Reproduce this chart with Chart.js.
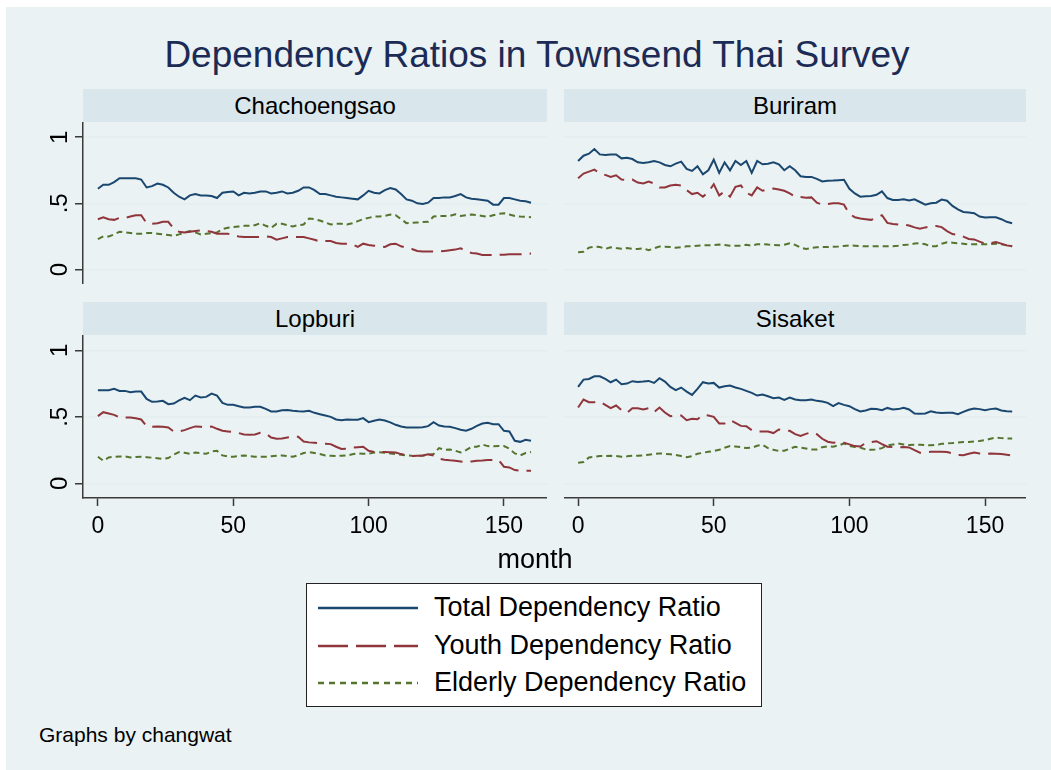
<!DOCTYPE html>
<html>
<head>
<meta charset="utf-8">
<script src="https://cdn.jsdelivr.net/npm/chart.js@4.4.1/dist/chart.umd.min.js"></script>
<style>
  body { margin: 0; width: 1051px; height: 770px; position: relative; overflow: hidden; background: #fff;
         font-family: "Liberation Sans", Arial, sans-serif; }
  #bg { position: absolute; left: 6px; top: 7px; right: 0; bottom: 0; background: #eaf2f3; }
  .abs { position: absolute; }
  .strip { position: absolute; height: 33px; background: #d9e6eb; color: #000; font-size: 24px;
           line-height: 33px; text-align: center; }
  #title { left: 0; width: 1074px; top: 36px; text-align: center; font-size: 37px; line-height: 37px; color: #1c2b55; }
  #xtitle { left: 0; width: 1070px; top: 546px; text-align: center; font-size: 27px; line-height: 27px; color: #000; }
  #legend { left: 306px; top: 583px; width: 456px; height: 124px; box-sizing: border-box;
            border: 1.5px solid #222; background: #fff; }
  .legtext { position: absolute; left: 127px; font-size: 27px; line-height: 27px; color: #000; white-space: nowrap; }
  #note { left: 39px; top: 724px; font-size: 21px; line-height: 21px; color: #000; }
</style>
</head>
<body>
<div id="bg"></div>
<div id="title" class="abs">Dependency Ratios in Townsend Thai Survey</div>

<div class="strip" style="left:83px;top:89px;width:464px;">Chachoengsao</div>
<div class="strip" style="left:564px;top:89px;width:462px;">Buriram</div>
<div class="strip" style="left:83px;top:302px;width:464px;">Lopburi</div>
<div class="strip" style="left:564px;top:302px;width:462px;">Sisaket</div>

<canvas id="c1" class="abs" width="517" height="162" style="left:30px;top:122px;"></canvas>
<canvas id="c2" class="abs" width="462" height="162" style="left:564px;top:122px;"></canvas>
<canvas id="c3" class="abs" width="517" height="210" style="left:30px;top:335px;"></canvas>
<canvas id="c4" class="abs" width="462" height="210" style="left:564px;top:335px;"></canvas>

<div id="xtitle" class="abs">month</div>

<div id="legend" class="abs">
  <svg class="abs" style="left:0;top:0" width="453" height="121">
    <line x1="11" y1="24" x2="111" y2="24" stroke="#1a476f" stroke-width="2.5"/>
    <line x1="11" y1="62" x2="111" y2="62" stroke="#90353b" stroke-width="2.5" stroke-dasharray="30 8"/>
    <line x1="11" y1="99" x2="111" y2="99" stroke="#55752f" stroke-width="2.5" stroke-dasharray="6 5"/>
  </svg>
  <div class="legtext" style="top:10px;">Total Dependency Ratio</div>
  <div class="legtext" style="top:48px;">Youth Dependency Ratio</div>
  <div class="legtext" style="top:85px;">Elderly Dependency Ratio</div>
</div>

<div id="note" class="abs">Graphs by changwat</div>

<script>
const months = [0, 2, 4, 6, 8, 10, 12, 14, 16, 18, 20, 22, 24, 26, 28, 30, 32, 34, 36, 38,
  40, 42, 44, 46, 48, 50, 52, 54, 56, 58, 60, 62, 64, 66, 68, 70, 72, 74, 76, 78,
  80, 82, 84, 86, 88, 90, 92, 94, 96, 98, 100, 102, 104, 106, 108, 110, 112, 114, 116, 118,
  120, 122, 124, 126, 128, 130, 132, 134, 136, 138, 140, 142, 144, 146, 148, 150, 152, 154, 156, 158, 160];

const xTicks = [0, 50, 100, 150];
const yTicks = [0, 0.5, 1];
const yTickLabels = ['0', '.5', '1'];
const seriesNames = ['Total Dependency Ratio', 'Youth Dependency Ratio', 'Elderly Dependency Ratio'];

// Chachoengsao
const chachTotal = [0.61, 0.64, 0.64, 0.66, 0.69, 0.69, 0.69, 0.69, 0.68, 0.62,
  0.63, 0.65, 0.64, 0.62, 0.58, 0.55, 0.53, 0.56, 0.57, 0.56,
  0.56, 0.555, 0.54, 0.58, 0.585, 0.59, 0.56, 0.58, 0.575, 0.58,
  0.59, 0.59, 0.575, 0.58, 0.59, 0.575, 0.58, 0.595, 0.62, 0.62,
  0.60, 0.57, 0.57, 0.56, 0.55, 0.545, 0.54, 0.535, 0.53, 0.56,
  0.595, 0.58, 0.575, 0.60, 0.615, 0.605, 0.57, 0.53, 0.52, 0.50,
  0.495, 0.505, 0.54, 0.54, 0.545, 0.545, 0.555, 0.57, 0.545, 0.535,
  0.53, 0.525, 0.52, 0.49, 0.49, 0.54, 0.54, 0.53, 0.52, 0.515, 0.505];
const chachYouth = [0.38, 0.395, 0.38, 0.375, 0.39, 0.39, 0.40, 0.41, 0.41, 0.35,
  0.345, 0.35, 0.36, 0.36, 0.31, 0.285, 0.28, 0.285, 0.29, 0.295,
  0.29, 0.285, 0.27, 0.27, 0.27, 0.26, 0.25, 0.245, 0.245, 0.245,
  0.245, 0.25, 0.245, 0.225, 0.235, 0.245, 0.245, 0.245, 0.245, 0.235,
  0.225, 0.21, 0.215, 0.215, 0.2, 0.195, 0.195, 0.19, 0.17, 0.195,
  0.185, 0.18, 0.175, 0.17, 0.19, 0.195, 0.175, 0.165, 0.155, 0.14,
  0.135, 0.135, 0.135, 0.135, 0.14, 0.145, 0.15, 0.16, 0.14, 0.125,
  0.12, 0.11, 0.11, 0.11, 0.11, 0.112, 0.115, 0.115, 0.115, 0.118, 0.12];
const chachElderly = [0.23, 0.25, 0.25, 0.265, 0.285, 0.28, 0.275, 0.27, 0.27, 0.275,
  0.275, 0.27, 0.265, 0.26, 0.255, 0.265, 0.28, 0.29, 0.28, 0.265,
  0.27, 0.275, 0.28, 0.305, 0.315, 0.32, 0.325, 0.33, 0.33, 0.335,
  0.35, 0.33, 0.315, 0.345, 0.345, 0.335, 0.325, 0.335, 0.34, 0.385,
  0.38, 0.37, 0.355, 0.34, 0.345, 0.345, 0.34, 0.35, 0.365, 0.38,
  0.39, 0.40, 0.40, 0.405, 0.415, 0.41, 0.38, 0.35, 0.352, 0.355,
  0.358, 0.36, 0.40, 0.405, 0.405, 0.405, 0.418, 0.405, 0.41, 0.415,
  0.41, 0.405, 0.398, 0.41, 0.42, 0.425, 0.415, 0.405, 0.40, 0.398, 0.395];

// Buriram
const buriTotal = [0.82, 0.86, 0.875, 0.91, 0.87, 0.865, 0.87, 0.87, 0.84, 0.845,
  0.835, 0.81, 0.805, 0.81, 0.82, 0.81, 0.79, 0.78, 0.80, 0.815,
  0.76, 0.745, 0.78, 0.72, 0.75, 0.83, 0.73, 0.81, 0.75, 0.82,
  0.79, 0.82, 0.73, 0.82, 0.795, 0.80, 0.81, 0.795, 0.75, 0.78,
  0.75, 0.705, 0.70, 0.70, 0.685, 0.665, 0.67, 0.672, 0.675, 0.678,
  0.61, 0.575, 0.55, 0.553, 0.555, 0.565, 0.59, 0.54, 0.525, 0.525,
  0.53, 0.522, 0.53, 0.51, 0.49, 0.50, 0.505, 0.528, 0.52, 0.48,
  0.455, 0.435, 0.43, 0.425, 0.40, 0.393, 0.395, 0.395, 0.38, 0.36, 0.35];
const buriYouth = [0.69, 0.725, 0.74, 0.755, 0.725, 0.715, 0.70, 0.712, 0.68, 0.675,
  0.68, 0.657, 0.65, 0.665, 0.65, 0.62, 0.62, 0.635, 0.64, 0.635,
  0.60, 0.57, 0.58, 0.55, 0.585, 0.645, 0.56, 0.59, 0.55, 0.625,
  0.635, 0.58, 0.56, 0.62, 0.595, 0.605, 0.612, 0.605, 0.595, 0.575,
  0.55, 0.548, 0.543, 0.545, 0.505, 0.49, 0.495, 0.50, 0.50, 0.49,
  0.42, 0.395, 0.385, 0.38, 0.375, 0.39, 0.41, 0.352, 0.343, 0.34,
  0.34, 0.332, 0.318, 0.308, 0.318, 0.326, 0.328, 0.32, 0.29, 0.268,
  0.262, 0.248, 0.23, 0.227, 0.21, 0.195, 0.198, 0.208, 0.195, 0.182, 0.175];
const buriElderly = [0.13, 0.133, 0.165, 0.172, 0.17, 0.155, 0.168, 0.162, 0.157, 0.162,
  0.155, 0.155, 0.16, 0.145, 0.16, 0.173, 0.172, 0.17, 0.165, 0.168,
  0.175, 0.175, 0.18, 0.183, 0.183, 0.185, 0.188, 0.185, 0.18, 0.18,
  0.18, 0.186, 0.18, 0.19, 0.192, 0.188, 0.185, 0.183, 0.187, 0.197,
  0.186, 0.165, 0.155, 0.163, 0.167, 0.17, 0.17, 0.172, 0.174, 0.178,
  0.182, 0.18, 0.176, 0.175, 0.175, 0.175, 0.175, 0.175, 0.176, 0.18,
  0.185, 0.188, 0.196, 0.198, 0.19, 0.175, 0.176, 0.195, 0.206, 0.202,
  0.198, 0.195, 0.19, 0.19, 0.192, 0.19, 0.192, 0.195, 0.19, 0.182, 0.175];

// Lopburi
const lopTotal = [0.70, 0.70, 0.70, 0.71, 0.695, 0.695, 0.685, 0.69, 0.69, 0.635,
  0.613, 0.615, 0.62, 0.595, 0.60, 0.623, 0.643, 0.625, 0.66, 0.645,
  0.65, 0.675, 0.66, 0.605, 0.59, 0.59, 0.58, 0.57, 0.57, 0.575,
  0.575, 0.56, 0.54, 0.54, 0.55, 0.552, 0.545, 0.542, 0.54, 0.545,
  0.53, 0.52, 0.51, 0.50, 0.48, 0.475, 0.48, 0.478, 0.478, 0.49,
  0.46, 0.47, 0.48, 0.472, 0.458, 0.44, 0.428, 0.42, 0.42, 0.42,
  0.422, 0.43, 0.46, 0.435, 0.428, 0.425, 0.415, 0.403, 0.395, 0.41,
  0.432, 0.45, 0.455, 0.445, 0.445, 0.395, 0.39, 0.32, 0.312, 0.328, 0.32];
const lopYouth = [0.505, 0.535, 0.525, 0.515, 0.495, 0.495, 0.495, 0.49, 0.48, 0.43,
  0.425, 0.428, 0.425, 0.42, 0.39, 0.39, 0.40, 0.415, 0.428, 0.425,
  0.422, 0.428, 0.41, 0.395, 0.39, 0.385, 0.378, 0.368, 0.365, 0.368,
  0.38, 0.375, 0.345, 0.335, 0.338, 0.345, 0.35, 0.35, 0.315, 0.308,
  0.305, 0.30, 0.298, 0.295, 0.275, 0.258, 0.26, 0.268, 0.272, 0.275,
  0.245, 0.235, 0.235, 0.235, 0.234, 0.232, 0.22, 0.21, 0.205, 0.208,
  0.21, 0.218, 0.21, 0.185, 0.177, 0.173, 0.17, 0.165, 0.16, 0.165,
  0.17, 0.172, 0.175, 0.175, 0.175, 0.125, 0.12, 0.10, 0.095, 0.095, 0.095];
const lopElderly = [0.20, 0.17, 0.195, 0.20, 0.202, 0.203, 0.195, 0.198, 0.20, 0.197,
  0.193, 0.188, 0.183, 0.19, 0.215, 0.235, 0.23, 0.222, 0.232, 0.228,
  0.222, 0.24, 0.245, 0.21, 0.202, 0.20, 0.205, 0.21, 0.205, 0.20,
  0.20, 0.20, 0.204, 0.207, 0.21, 0.205, 0.20, 0.212, 0.228, 0.235,
  0.228, 0.22, 0.21, 0.208, 0.205, 0.208, 0.21, 0.218, 0.225, 0.222,
  0.222, 0.232, 0.233, 0.23, 0.225, 0.22, 0.215, 0.21, 0.207, 0.206,
  0.208, 0.215, 0.22, 0.265, 0.252, 0.255, 0.245, 0.232, 0.25, 0.275,
  0.275, 0.292, 0.28, 0.278, 0.28, 0.28, 0.26, 0.225, 0.21, 0.228, 0.235];

// Sisaket
const sisaTotal = [0.725, 0.78, 0.785, 0.805, 0.805, 0.785, 0.76, 0.78, 0.745, 0.75,
  0.768, 0.762, 0.765, 0.77, 0.755, 0.79, 0.765, 0.725, 0.70, 0.72,
  0.69, 0.665, 0.71, 0.76, 0.75, 0.755, 0.72, 0.73, 0.735, 0.72,
  0.71, 0.695, 0.68, 0.66, 0.668, 0.655, 0.64, 0.645, 0.628, 0.645,
  0.63, 0.625, 0.625, 0.63, 0.62, 0.615, 0.605, 0.58, 0.603, 0.59,
  0.58, 0.558, 0.54, 0.548, 0.56, 0.558, 0.55, 0.567, 0.555, 0.558,
  0.568, 0.555, 0.525, 0.523, 0.525, 0.542, 0.533, 0.528, 0.53, 0.53,
  0.52, 0.537, 0.553, 0.563, 0.558, 0.55, 0.558, 0.563, 0.548, 0.542, 0.54];
const sisaYouth = [0.57, 0.63, 0.61, 0.61, 0.615, 0.59, 0.565, 0.585, 0.55, 0.53,
  0.565, 0.565, 0.555, 0.565, 0.535, 0.57, 0.532, 0.505, 0.51, 0.51,
  0.475, 0.485, 0.482, 0.515, 0.51, 0.50, 0.45, 0.45, 0.475, 0.455,
  0.432, 0.43, 0.40, 0.39, 0.39, 0.39, 0.378, 0.405, 0.397, 0.395,
  0.37, 0.357, 0.372, 0.385, 0.37, 0.335, 0.313, 0.306, 0.308, 0.305,
  0.293, 0.28, 0.277, 0.303, 0.31, 0.317, 0.295, 0.275, 0.274, 0.27,
  0.273, 0.27, 0.25, 0.23, 0.234, 0.237, 0.237, 0.237, 0.235, 0.225,
  0.213, 0.212, 0.222, 0.232, 0.225, 0.222, 0.224, 0.222, 0.22, 0.215, 0.21];
const sisaElderly = [0.155, 0.16, 0.195, 0.20, 0.205, 0.205, 0.207, 0.205, 0.20, 0.203,
  0.207, 0.208, 0.21, 0.215, 0.22, 0.225, 0.222, 0.218, 0.213, 0.205,
  0.197, 0.205, 0.222, 0.23, 0.237, 0.243, 0.252, 0.268, 0.28, 0.277,
  0.272, 0.265, 0.268, 0.282, 0.29, 0.265, 0.253, 0.243, 0.245, 0.26,
  0.275, 0.268, 0.262, 0.255, 0.255, 0.272, 0.278, 0.276, 0.285, 0.30,
  0.282, 0.273, 0.27, 0.255, 0.252, 0.254, 0.265, 0.285, 0.292, 0.30,
  0.292, 0.288, 0.29, 0.29, 0.287, 0.287, 0.288, 0.297, 0.30, 0.303,
  0.307, 0.31, 0.311, 0.314, 0.319, 0.325, 0.335, 0.344, 0.34, 0.337, 0.337];

const colors = ['#1a476f', '#90353b', '#55752f'];
const dashes = [[], [22, 8], [6, 4]];
const gridColor = '#e4edf0';
const axisColor = '#3a3a3a';

// rotated y tick labels, Stata style
const yLabelPlugin = {
  id: 'yLabels',
  afterDraw(chart) {
    if (!chart.options.plugins.yLabels.show) return;
    const s = chart.scales.y;
    const ctx = chart.ctx;
    ctx.save();
    ctx.font = '24px "Liberation Sans", Arial, sans-serif';
    ctx.fillStyle = '#000';
    ctx.textAlign = 'center';
    ctx.textBaseline = 'alphabetic';
    yTicks.forEach((v, i) => {
      const y = s.getPixelForValue(v);
      ctx.save();
      ctx.translate(s.right - 16, y);
      ctx.rotate(-Math.PI / 2);
      ctx.fillText(yTickLabels[i], 0, 0);
      ctx.restore();
    });
    ctx.restore();
  }
};

function makePanel(id, series, showY, showX, xMin, xMax) {
  const datasets = series.map((vals, i) => ({
    label: seriesNames[i],
    data: months.map((m, j) => ({ x: m, y: vals[j] })),
    borderColor: colors[i],
    borderWidth: 2,
    borderDash: dashes[i],
    pointRadius: 0,
    tension: 0,
    fill: false
  }));

  new Chart(document.getElementById(id), {
    type: 'line',
    data: { datasets: datasets },
    options: {
      responsive: false,
      animation: false,
      layout: { padding: 0 },
      plugins: {
        legend: { display: false },
        tooltip: { enabled: false },
        yLabels: { show: showY }
      },
      scales: {
        x: {
          type: 'linear',
          min: xMin,
          max: xMax,
          display: showX,
          border: { display: true, color: axisColor, width: 1.5 },
          grid: { drawOnChartArea: false, drawTicks: true, tickLength: 8, tickColor: axisColor, tickWidth: 1.5 },
          ticks: {
            color: '#000',
            font: { family: '"Liberation Sans", Arial, sans-serif', size: 23 },
            padding: 7,
            maxRotation: 0,
            callback: v => String(v)
          },
          afterBuildTicks: s => { s.ticks = xTicks.map(v => ({ value: v })); },
          afterFit: s => { s.height = showX ? 47 : 0; }
        },
        y: {
          type: 'linear',
          min: -0.11,
          max: 1.115,
          border: { display: showY, color: axisColor, width: 1.5 },
          grid: {
            color: gridColor,
            lineWidth: 1.5,
            drawTicks: showY,
            tickLength: 8,
            tickColor: axisColor,
            tickWidth: 1.5
          },
          ticks: { display: false },
          afterBuildTicks: s => { s.ticks = yTicks.map(v => ({ value: v })); },
          afterFit: s => { s.width = showY ? 53 : 0; }
        }
      }
    },
    plugins: [yLabelPlugin]
  });
}

makePanel('c1', [chachTotal, chachYouth, chachElderly], true, false, -5.5, 165.9);
makePanel('c2', [buriTotal, buriYouth, buriElderly], false, false, -5.2, 165.1);
makePanel('c3', [lopTotal, lopYouth, lopElderly], true, true, -5.5, 165.9);
makePanel('c4', [sisaTotal, sisaYouth, sisaElderly], false, true, -5.2, 165.1);
</script>
</body>
</html>
